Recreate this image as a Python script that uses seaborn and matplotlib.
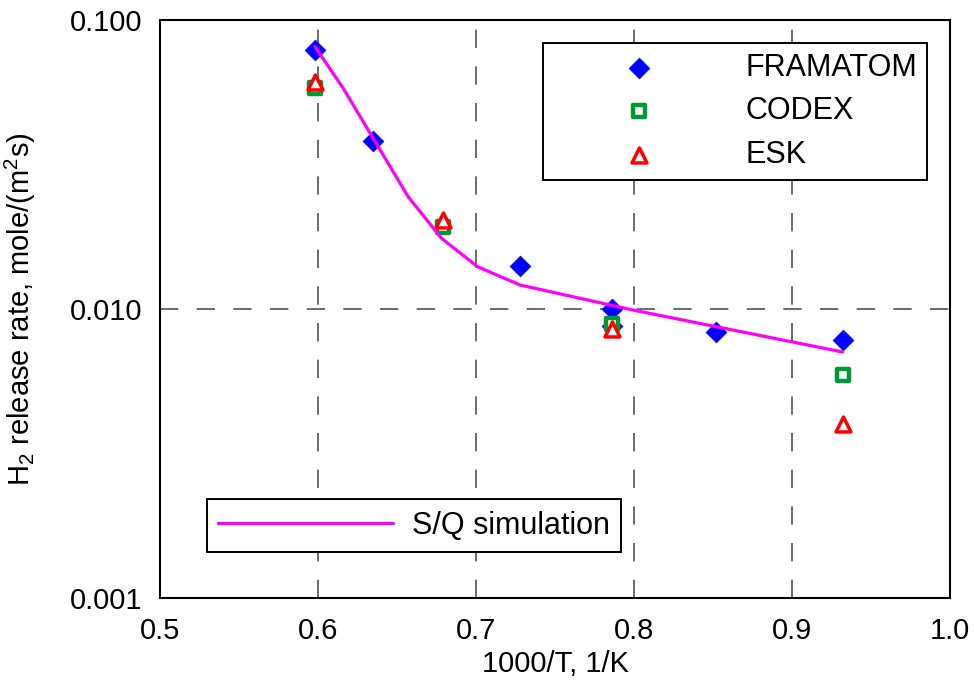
import matplotlib
matplotlib.use("Agg")
import matplotlib.pyplot as plt
import seaborn as sns
import numpy as np
from matplotlib.ticker import FixedLocator, FormatStrFormatter, LogLocator, NullFormatter

# ---- data ----
x_framatom = [0.598, 0.635, 0.728, 0.786, 0.786, 0.852, 0.932]
y_framatom = [0.079, 0.038, 0.0141, 0.0100, 0.0087, 0.0083, 0.0078]

x_codex = [0.598, 0.679, 0.786, 0.932]
y_codex = [0.0582, 0.0192, 0.0089, 0.0059]

x_esk = [0.598, 0.679, 0.786, 0.932]
y_esk = [0.0612, 0.0203, 0.0085, 0.0040]

x_sim = [0.598, 0.616, 0.657, 0.678, 0.701, 0.728, 0.800, 0.932]
y_sim = [0.081, 0.058, 0.0245, 0.0176, 0.0140, 0.0121, 0.0099, 0.0071]

x_ticks = [0.5, 0.6, 0.7, 0.8, 0.9, 1.0]
y_ticks = [0.001, 0.01, 0.1]

series_labels = ["FRAMATOM", "CODEX", "ESK"]
sim_label = "S/Q simulation"
x_label = "1000/T, 1/K"
y_label = "H$_2$ release rate, mole/(m$^2$s)"

# ---- style ----
sns.set_style("white")
plt.rcParams["font.family"] = ["Liberation Sans", "DejaVu Sans"]
plt.rcParams["mathtext.default"] = "regular"
plt.rcParams["font.size"] = 21
plt.rcParams["text.color"] = "black"
plt.rcParams["axes.labelcolor"] = "black"
plt.rcParams["xtick.color"] = "black"
plt.rcParams["ytick.color"] = "black"

fig = plt.figure(figsize=(9.74, 6.8), dpi=100)
ax = fig.add_axes([160 / 974, 1 - 598 / 680, 790 / 974, 578 / 680])

blue = "#0000FF"
green = "#009933"
red = "#FF0000"
magenta = "#FF00FF"

sns.scatterplot(x=x_framatom, y=y_framatom, marker="D", s=112, color=blue,
                edgecolor=blue, linewidth=0.5, ax=ax, zorder=3, legend=False)
h_fr = ax.collections[-1]
sns.scatterplot(x=x_codex, y=y_codex, marker="s", s=64, color="white",
                edgecolor=green, linewidth=3.2, ax=ax, zorder=4, legend=False)
h_co = ax.collections[-1]
sns.scatterplot(x=x_esk, y=y_esk, marker="^", s=115, color="white",
                edgecolor=red, linewidth=2.5, ax=ax, zorder=5, legend=False)
h_es = ax.collections[-1]
sns.lineplot(x=x_sim, y=y_sim, color=magenta, linewidth=2.3, ax=ax,
             zorder=6, legend=False, sort=False)
h_sim = ax.lines[-1]

ax.set_yscale("log")
ax.set_xlim(0.5, 1.0)
ax.set_ylim(0.001, 0.1)
ax.xaxis.set_major_locator(FixedLocator(x_ticks))
ax.xaxis.set_major_formatter(FormatStrFormatter("%.1f"))
ax.xaxis.set_minor_locator(FixedLocator([0.55, 0.65, 0.75, 0.85, 0.95]))
ax.yaxis.set_major_locator(FixedLocator(y_ticks))
ax.yaxis.set_major_formatter(FormatStrFormatter("%.3f"))
ax.yaxis.set_minor_locator(LogLocator(base=10, subs=np.arange(2, 10)))
ax.yaxis.set_minor_formatter(NullFormatter())

ax.tick_params(which="both", direction="in", length=8, width=1.2, color="black",
               top=False, right=False)
ax.tick_params(axis="x", which="major", pad=14, labelsize=21)
ax.tick_params(axis="y", which="major", pad=13, labelsize=21)

for sp in ax.spines.values():
    sp.set_visible(True)
    sp.set_color("black")
    sp.set_linewidth(1.5)

# dashed grid at interior major ticks
ax.grid(False)
for xv in x_ticks[1:-1]:
    ax.axvline(xv, color="#444444", lw=1.1, ls=(0, (12, 12)), zorder=1)
ax.axhline(0.01, color="#444444", lw=1.1, ls=(0, (12, 12)), zorder=1)

ax.set_xlabel(x_label, fontsize=21, labelpad=3)
ax.set_ylabel(y_label, fontsize=21)
ax.yaxis.set_label_coords(-0.154, 0.5)

leg1 = ax.legend([h_fr, h_co, h_es], series_labels, loc="upper right",
                 bbox_to_anchor=(1, 1), borderaxespad=0.75, fontsize=22,
                 frameon=True, fancybox=False, shadow=False, framealpha=1,
                 edgecolor="black", handlelength=5.67, handletextpad=0.63,
                 borderpad=0.33, labelspacing=0.44, scatterpoints=1)
leg1.get_frame().set_linewidth(1.4)
leg1.set_zorder(10)
ax.add_artist(leg1)

leg2 = ax.legend([h_sim], [sim_label], loc="lower left",
                 bbox_to_anchor=(47 / 790, 46 / 578), borderaxespad=0,
                 fontsize=22, frameon=True, fancybox=False, framealpha=1,
                 edgecolor="black", handlelength=5.72, handletextpad=0.62,
                 borderpad=0.37)
leg2.get_frame().set_linewidth(1.4)
leg2.set_zorder(10)

fig.savefig("out.png", dpi=100)
